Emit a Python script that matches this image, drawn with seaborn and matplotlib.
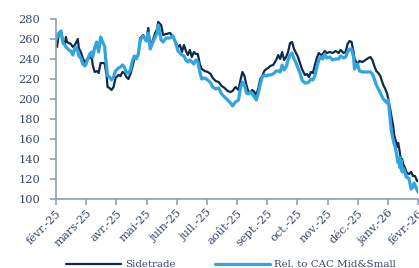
"""Sidetrade share price vs. relative to CAC Mid&Small."""

import matplotlib

matplotlib.use("Agg", force=True)

import matplotlib.pyplot as plt
import numpy as np
import pandas as pd
import seaborn as sns

# days since 1 Feb 2025
days = [
    0, 1, 3, 5, 7, 9, 10, 11, 13, 15, 17, 19, 20, 22, 23, 25, 27, 29, 30, 32,
    34, 36, 37, 39, 41, 43, 45, 47, 49, 50, 51, 52, 54, 56, 58, 60, 63, 65, 67, 69,
    71, 73, 75, 77, 79, 81, 83, 85, 88, 91, 93, 95, 97, 100, 102, 103, 106, 108, 111, 115,
    118, 121, 123, 125, 127, 129, 131, 133, 135, 137, 139, 141, 143, 145, 147, 150, 153, 156, 158, 161,
    164, 167, 170, 173, 176, 178, 181, 184, 186, 188, 190, 192, 194, 196, 198, 200, 202, 204, 206, 208,
    210, 212, 214, 216, 219, 222, 224, 226, 228, 230, 232, 234, 236, 238, 240, 242, 244, 246, 248, 251,
    253, 255, 257, 259, 261, 263, 265, 267, 269, 271, 273, 276, 279, 282, 285, 287, 290, 292, 294, 296,
    298, 300, 301, 304, 306, 309, 312, 315, 317, 319, 321, 323, 325, 327, 330, 332, 334, 335, 336, 337,
    338, 340, 341, 342, 343, 344, 345, 346, 347, 348, 349, 350, 352, 353, 354, 356, 358, 360, 361, 362,
    364, 365,
]

sidetrade = [
    254, 252, 266, 268, 258, 255, 262, 257, 256, 255, 252, 254, 256, 260, 251, 247, 241, 237, 237, 241,
    241, 242, 234, 227, 228, 226, 236, 236, 236, 230, 224, 212, 211, 209, 212, 221, 224, 223, 227, 226,
    222, 220, 225, 232, 240, 241, 244, 261, 264, 258, 271, 254, 257, 266, 270, 277, 274, 264, 265, 266,
    262, 256, 252, 254, 247, 254, 248, 244, 249, 242, 247, 245, 245, 235, 230, 228, 227, 225, 221, 218,
    217, 213, 211, 208, 207, 208, 212, 209, 219, 227, 223, 214, 207, 207, 209, 207, 204, 211, 220, 223,
    228, 230, 231, 233, 234, 239, 244, 240, 247, 239, 242, 247, 256, 257, 250, 246, 242, 236, 230, 224,
    225, 222, 227, 226, 234, 241, 246, 244, 245, 248, 246, 247, 246, 248, 246, 249, 246, 247, 255, 258,
    257, 247, 240, 235, 238, 237, 239, 241, 242, 239, 233, 228, 226, 223, 214, 210, 205, 200, 195, 190,
    184, 173, 164, 160, 157, 152, 156, 151, 144, 137, 140, 135, 131, 128, 126, 125, 127, 123, 123, 123,
    118, 119,
]

rel_cac = [
    259, 262, 266, 268, 256, 254, 252, 251, 249, 248, 244, 251, 252, 248, 243, 241, 235, 233, 234, 240,
    245, 247, 242, 251, 257, 247, 262, 257, 253, 241, 232, 223, 222, 219, 222, 228, 231, 232, 234, 232,
    226, 226, 229, 238, 243, 240, 245, 259, 263, 258, 266, 250, 255, 262, 266, 274, 259, 257, 261, 261,
    263, 255, 248, 246, 244, 243, 239, 237, 239, 237, 235, 239, 237, 227, 220, 221, 219, 216, 212, 210,
    211, 205, 202, 199, 196, 193, 197, 199, 211, 217, 214, 206, 205, 207, 205, 202, 199, 206, 215, 222,
    224, 223, 224, 224, 225, 228, 228, 227, 234, 229, 232, 239, 244, 246, 240, 236, 231, 226, 219, 216,
    216, 217, 220, 219, 223, 232, 239, 242, 240, 245, 241, 242, 239, 240, 240, 243, 241, 242, 247, 250,
    250, 242, 230, 235, 228, 227, 227, 227, 227, 225, 220, 214, 210, 206, 200, 198, 196, 199, 189, 179,
    169, 159, 155, 152, 147, 141, 136, 142, 131, 139, 127, 131, 127, 122, 122, 120, 110, 112, 116, 114,
    109, 107,
]

month_labels = [
    "févr.-25", "mars-25", "avr.-25", "mai-25", "juin-25", "juil.-25", "août-25",
    "sept.-25", "oct.-25", "nov.-25", "déc.-25", "janv.-26", "févr.-26",
]

df = pd.DataFrame({"day": days, "Sidetrade": sidetrade, "Rel. to CAC Mid&Small": rel_cac})

sns.set_style("white")
plt.rcParams["font.family"] = ["DejaVu Serif"]

text_col = "#34466a"
axis_col = "#8da0b6"
dark = "#0c2a4e"
light = "#32a5df"

fig = plt.figure(figsize=(4.19, 2.68), dpi=100)
ax = fig.add_axes([56 / 419, 69 / 268, 362 / 419, 180 / 268])

sns.lineplot(data=df, x="day", y="Sidetrade", color=dark, linewidth=1.6, ax=ax, label="Sidetrade")
sns.lineplot(data=df, x="day", y="Rel. to CAC Mid&Small", color=light, linewidth=2.3, ax=ax,
             label="Rel. to CAC Mid&Small")

ax.set_xlim(0, 365)
ax.set_ylim(100, 280)
ax.set_yticks(np.arange(100, 281, 20))
ax.set_xticks(np.arange(13) * 365 / 12)
ax.set_xticklabels(month_labels, rotation=45, ha="right", rotation_mode="anchor")
ax.set_xlabel("")
ax.set_ylabel("")

for side in ["top", "right"]:
    ax.spines[side].set_visible(False)
for side in ["left", "bottom"]:
    ax.spines[side].set_color(axis_col)
    ax.spines[side].set_linewidth(1.2)
ax.tick_params(axis="both", which="major", length=4.5, width=1.2, color=axis_col,
               labelcolor=text_col, labelsize=8.2, left=True, bottom=True)
ax.tick_params(axis="y", pad=7)
ax.tick_params(axis="x", pad=2)

ax.get_legend().remove()
handles, labels = ax.get_legend_handles_labels()
fig.legend(handles, labels, loc="center", bbox_to_anchor=(0.551, 0.012), ncol=2,
           frameon=False, handlelength=5.3, handletextpad=0.4, columnspacing=3.9,
           fontsize=7.4, labelcolor=text_col)

fig.savefig("out.png", dpi=100)
plt.close(fig)
